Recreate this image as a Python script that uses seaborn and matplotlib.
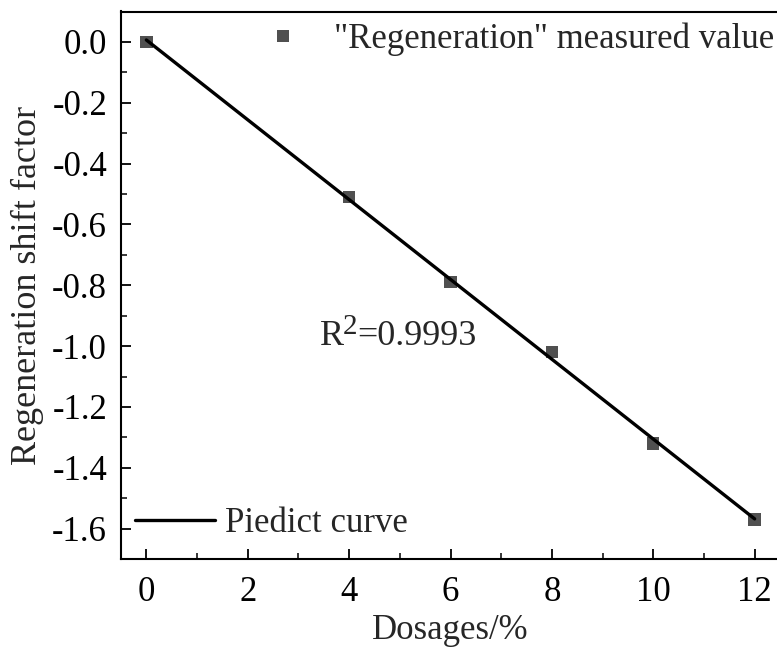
import numpy as np
import pandas as pd
import seaborn as sns
import matplotlib
matplotlib.use("Agg")
import matplotlib.pyplot as plt
from matplotlib.lines import Line2D
from matplotlib.ticker import MultipleLocator

dosages = [0, 4, 6, 8, 10, 12]
shift_factor = [0.0, -0.51, -0.79, -1.02, -1.32, -1.57]
x_ticks = [0, 2, 4, 6, 8, 10, 12]
y_ticks = [0.0, -0.2, -0.4, -0.6, -0.8, -1.0, -1.2, -1.4, -1.6]
r2_value = "=0.9993"

sns.set_theme(style="white")
plt.rcParams['font.family'] = ['Liberation Serif', 'DejaVu Serif']

df = pd.DataFrame({"Dosages": dosages, "Shift": shift_factor})
slope, intercept = np.polyfit(dosages, shift_factor, 1)
fit_x = np.array([min(dosages), max(dosages)])
fit_df = pd.DataFrame({"Dosages": fit_x, "Shift": slope * fit_x + intercept})

W, H = 777, 650
fig = plt.figure(figsize=(W/100, H/100), dpi=100)
ax = fig.add_axes([121/W, 1 - 559/H, (780 - 121)/W, (559 - 11.5)/H])

sns.lineplot(data=fit_df, x="Dosages", y="Shift", ax=ax,
             color="black", linewidth=2.4, legend=False)
sns.scatterplot(data=df, x="Dosages", y="Shift", ax=ax, marker="s", s=80,
                color="#505050", edgecolor="none", legend=False, zorder=1)

ax.set_xlim(-0.5, 12.5)
ax.set_ylim(-1.7, 0.1)
ax.set_xticks(x_ticks)
ax.set_yticks(y_ticks)
ax.set_xticklabels([str(t) for t in x_ticks])
ax.set_yticklabels(["%.1f" % t if t == 0 else ("-%.1f" % abs(t)) for t in y_ticks])
ax.xaxis.set_minor_locator(MultipleLocator(1))
ax.yaxis.set_minor_locator(MultipleLocator(0.1))
ax.tick_params(which="major", direction="in", length=7, width=1.3, labelsize=25,
               left=True, bottom=True, top=False, right=False, colors="black")
ax.tick_params(axis="y", which="major", pad=10)
ax.tick_params(axis="x", which="major", pad=12)
ax.tick_params(which="minor", direction="in", length=4, width=1.3,
               left=True, bottom=True, top=False, right=False)
for sp in ax.spines.values():
    sp.set_linewidth(1.5)
    sp.set_color("black")

ax.set_xlabel("Dosages/%", fontsize=25, labelpad=4)
ax.set_ylabel("Regeneration shift factor", fontsize=26, labelpad=6)

t1 = ax.text(3.42, -0.996, "R", fontsize=26, ha="left", va="baseline")
t2 = ax.annotate("2", xy=(1, 1), xycoords=t1, xytext=(-0.5, 4),
                 textcoords="offset points", fontsize=21, ha="left", va="top")
ax.annotate(r2_value, xy=(1, 0), xycoords=(t2, t1), xytext=(-0.5, 0),
            textcoords="offset points", fontsize=26, ha="left", va="bottom")

h1 = Line2D([], [], marker="s", linestyle="none", color="#505050", markersize=9,
            markeredgewidth=0)
leg1 = ax.legend([h1], ['"Regeneration" measured value'], loc="upper right",
                 bbox_to_anchor=(774/W, 1 - 23/H), bbox_transform=fig.transFigure,
                 frameon=False, fontsize=25, borderpad=0, borderaxespad=0,
                 handlelength=2.3, handletextpad=0.3)
ax.add_artist(leg1)
h2 = Line2D([], [], color="black", linewidth=2.4)
ax.legend([h2], ["Piedict curve"], loc="lower left",
          bbox_to_anchor=(135/W, 1 - 540/H), bbox_transform=fig.transFigure,
          frameon=False, fontsize=25, borderpad=0, borderaxespad=0,
          handlelength=2.3, handletextpad=0.3)

fig.savefig("out.png", dpi=100)
